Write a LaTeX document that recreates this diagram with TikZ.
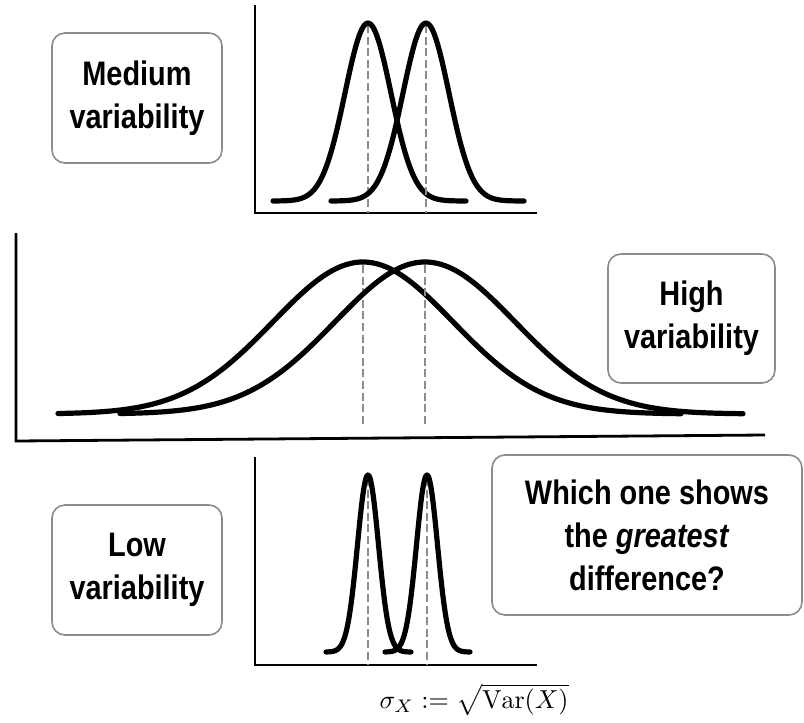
\documentclass[tikz,border=0pt]{standalone}
\usepackage{amsmath}
\usepackage{graphicx}
\usepackage{fontspec}
\newfontfamily\lblfont[FakeStretch=0.85]{Liberation Sans}
\usetikzlibrary{positioning,calc}
\tikzset{LABEL/.style={rectangle,rounded corners=6.5pt,draw=black!45,line width=0.8pt,fill=white,align=center,inner sep=0pt,font=\lblfont\bfseries\fontsize{17}{21.5}\selectfont}}
\tikzset{AXIS/.style={line width=1.4pt}}
\tikzset{CURVE/.style={line width=2.6pt, line cap=round, line join=round}}
\tikzset{MEAN/.style={black!45, line width=1pt, dash pattern=on 4pt off 1.8pt}}

\begin{document}
\begin{tikzpicture}[x=0.5pt,y=-0.5pt]
\useasboundingbox (0,0) rectangle (804,723);

% medium variability
\coordinate (c_med_origin) at (255,213);
\draw[AXIS] (255,5) -- (c_med_origin) -- (537,213);
\foreach \m in {368,426} {
  \draw[MEAN] (\m,25) -- (\m,213);
  \draw[CURVE] plot[domain=-95:98,samples=90,smooth] ({\m+\x},{201-178*exp(-0.5*(\x/23)^2)});
}
\node[LABEL, minimum width=85pt, minimum height=65pt] (n_medium) at (137,98) {Medium\\variability};

% high variability
\coordinate (c_high_origin) at (16,441);
\draw[AXIS] (16,233) -- (c_high_origin) -- (765,435);
\foreach \m in {363,425} {
  \draw[MEAN] (\m,265) -- (\m,425);
  \draw[CURVE] plot[domain=-305:318,samples=120,smooth] ({\m+\x},{414-152*exp(-0.5*(\x/90)^2)});
}
\node[LABEL, minimum width=83.5pt, minimum height=64.5pt] (n_high) at (691.5,318.5) {High\\variability};

% low variability
\coordinate (c_low_origin) at (255,665);
\draw[AXIS] (255,457) -- (c_low_origin) -- (537,665);
\foreach \m in {368,427} {
  \draw[MEAN] (\m,478) -- (\m,665);
  \draw[CURVE] plot[domain=-42:43,samples=70,smooth] ({\m+\x},{652-177*exp(-0.5*(\x/10.5)^2)});
}
\node[LABEL, minimum width=85pt, minimum height=65pt] (n_low) at (137,570) {Low\\variability};

\node[LABEL, minimum width=155pt, minimum height=80pt] (n_question) at (647,535) {Which one shows\\the \textit{greatest}\\difference?};

\node (n_formula) at (474,700) {\scalebox{1.3}{$\sigma_X := \sqrt{\mathrm{Var}(X)}$}};

\end{tikzpicture}
\end{document}
